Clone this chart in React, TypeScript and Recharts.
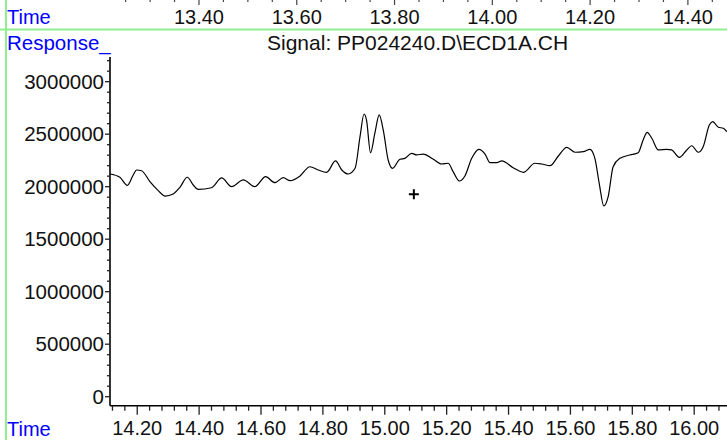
import { LineChart, Line, XAxis, YAxis, ReferenceDot } from 'recharts'

// trace (min, response)
const times = [
  14.112, 14.144, 14.168, 14.187, 14.198, 14.214, 14.241, 14.268, 14.29, 14.316,
  14.338, 14.362, 14.381, 14.397, 14.44, 14.473, 14.505, 14.543, 14.58, 14.615,
  14.645, 14.672, 14.694, 14.726, 14.758, 14.785, 14.812, 14.841, 14.861, 14.882,
  14.904, 14.92, 14.933, 14.941, 14.954, 14.968, 14.982, 14.995, 15.011, 15.025,
  15.049, 15.065, 15.087, 15.103, 15.124, 15.157, 15.184, 15.205, 15.221, 15.241,
  15.259, 15.281, 15.304, 15.324, 15.34, 15.362, 15.378, 15.415, 15.448, 15.485,
  15.507, 15.534, 15.561, 15.588, 15.615, 15.642, 15.663, 15.679, 15.693, 15.708,
  15.722, 15.738, 15.76, 15.792, 15.819, 15.835, 15.848, 15.863, 15.884, 15.911,
  15.927, 15.952, 15.976, 15.992, 16.013, 16.029, 16.049, 16.06, 16.078, 16.094,
  16.105,
]
const responses = [
  2121000, 2090000, 2013000, 2111000, 2159000, 2152000, 2048000, 1962000, 1911000, 1930000,
  1994000, 2090000, 2016000, 1975000, 1990000, 2083000, 2000000, 2064000, 2000000, 2095000,
  2038000, 2086000, 2057000, 2102000, 2190000, 2159000, 2137000, 2245000, 2159000, 2121000,
  2175000, 2476000, 2692000, 2635000, 2324000, 2509000, 2683000, 2540000, 2254000, 2175000,
  2261000, 2270000, 2318000, 2302000, 2311000, 2261000, 2216000, 2223000, 2143000, 2054000,
  2102000, 2270000, 2356000, 2311000, 2229000, 2229000, 2245000, 2181000, 2137000, 2223000,
  2216000, 2200000, 2292000, 2375000, 2328000, 2333000, 2356000, 2270000, 2032000, 1816000,
  1905000, 2190000, 2270000, 2302000, 2324000, 2445000, 2518000, 2461000, 2350000, 2356000,
  2350000, 2280000, 2350000, 2390000, 2328000, 2381000, 2588000, 2619000, 2566000, 2556000,
  2524000,
]

const xMajor = [14.2, 14.4, 14.6, 14.8, 15.0, 15.2, 15.4, 15.6, 15.8, 16.0]
const yMajor = [0, 500000, 1000000, 1500000, 2000000, 2500000, 3000000]
const topMajor = [13.4, 13.6, 13.8, 14.0, 14.2, 14.4]

// minor ticks: every 0.04 min on the time axis, every 100000 on response
const xTicks: number[] = []
for (let i = 353; i <= 402; i++) xTicks.push(+(i * 0.04).toFixed(2))
const yTicks: number[] = []
for (let i = 0; i <= 32; i++) yTicks.push(i * 100000)
const topTicks: number[] = []
for (let i = 265; i <= 289; i++) topTicks.push(+(i * 0.05).toFixed(2))

const cursor = { t: 15.094, v: 1928000 }

const data = times.map((t, i) => ({ t, v: responses[i] }))

const FONT = '"Liberation Sans", Arial, sans-serif'
const BLUE = '#0000ff'
const GREEN = '#90ee90'
const PLOT_LEFT = 110
const PLOT_BOTTOM = 405.7

const isMajor = (v: number, list: number[]) => list.some((m) => Math.abs(m - v) < 1e-6)

function BottomTick(props: any) {
  const { x, payload } = props
  const major = isMajor(payload.value, xMajor)
  return (
    <g>
      <line x1={x} x2={x} y1={PLOT_BOTTOM} y2={PLOT_BOTTOM + (major ? 9 : 5)} stroke="#222" strokeWidth={1.3} />
      {major && (
        <text x={x} y={435} textAnchor="middle" fontSize={20} fontFamily={FONT} fill="#111">
          {payload.value.toFixed(2)}
        </text>
      )}
    </g>
  )
}

function LeftTick(props: any) {
  const { y, payload } = props
  const major = isMajor(payload.value, yMajor)
  return (
    <g>
      <line x1={PLOT_LEFT - (major ? 5 : 3)} x2={PLOT_LEFT} y1={y} y2={y} stroke="#222" strokeWidth={1.3} />
      {major && (
        <text x={104} y={y + 7} textAnchor="end" fontSize={20.5} fontFamily={FONT} fill="#111">
          {String(payload.value)}
        </text>
      )}
    </g>
  )
}

function TopTick(props: any) {
  const { x, payload } = props
  const major = isMajor(payload.value, topMajor)
  return (
    <g>
      <line x1={x} x2={x} y1={0} y2={major ? 5 : 2} stroke="#444" strokeWidth={1.2} />
      {major && (
        <text x={x} y={24} textAnchor="middle" fontSize={20} fontFamily={FONT} fill="#111">
          {payload.value.toFixed(2)}
        </text>
      )}
    </g>
  )
}

const Plus = (p: any) => (
  <g>
    <line x1={p.cx - 5} x2={p.cx + 5} y1={p.cy} y2={p.cy} stroke="#000" strokeWidth={2} />
    <line x1={p.cx} x2={p.cx} y1={p.cy - 5} y2={p.cy + 5} stroke="#000" strokeWidth={2} />
  </g>
)

export default function App() {
  return (
    <div style={{ position: 'absolute', left: 0, top: 0, width: 727, height: 440, background: '#fff', overflow: 'hidden' }}>
      <svg width={727} height={440} style={{ position: 'absolute', left: 0, top: 0 }}>
        <line x1={6} x2={6} y1={0} y2={440} stroke={GREEN} strokeWidth={2} />
        <line x1={0} x2={727} y1={29.5} y2={29.5} stroke={GREEN} strokeWidth={2} />
        <text x={7} y={24} fontSize={20} fontFamily={FONT} fill={BLUE}>Time</text>
        <text x={7} y={50} fontSize={20.5} fontFamily={FONT} fill={BLUE}>Response_</text>
        <text x={267} y={50} fontSize={21} fontFamily={FONT} fill="#111">{'Signal: PP024240.D\\ECD1A.CH'}</text>
        <text x={7} y={436} fontSize={20} fontFamily={FONT} fill={BLUE}>Time</text>
      </svg>
      <div style={{ position: 'absolute', left: 0, top: 0 }}>
        <LineChart width={727} height={440} data={data} margin={{ top: 27, right: 0, bottom: 4.3, left: 0 }}>
          <XAxis
            xAxisId="top"
            orientation="top"
            dataKey="t"
            type="number"
            domain={[13.218, 14.48]}
            allowDataOverflow
            ticks={topTicks}
            interval={0}
            height={30}
            tickSize={0}
            axisLine={false}
            tickLine={false}
            tick={<TopTick />}
          />
          <XAxis
            dataKey="t"
            type="number"
            domain={[14.112, 16.106]}
            allowDataOverflow
            ticks={xTicks}
            interval={0}
            height={30}
            tickSize={0}
            tickLine={false}
            axisLine={{ stroke: '#000', strokeWidth: 1.6 }}
            tick={<BottomTick />}
          />
          <YAxis
            type="number"
            domain={[-85700, 3235000]}
            allowDataOverflow
            ticks={yTicks}
            interval={0}
            width={110}
            tickSize={0}
            tickLine={false}
            axisLine={{ stroke: '#000', strokeWidth: 1.6 }}
            tick={<LeftTick />}
          />
          {/* invisible series so the upper time axis gets a real scale */}
          <Line
            xAxisId="top"
            dataKey="v"
            stroke="none"
            dot={false}
            activeDot={false}
            legendType="none"
            isAnimationActive={false}
          />
          <Line
            type="monotone"
            dataKey="v"
            stroke="#000"
            strokeWidth={1.2}
            dot={false}
            isAnimationActive={false}
          />
          <ReferenceDot x={cursor.t} y={cursor.v} r={5} shape={Plus} />
        </LineChart>
      </div>
    </div>
  )
}
